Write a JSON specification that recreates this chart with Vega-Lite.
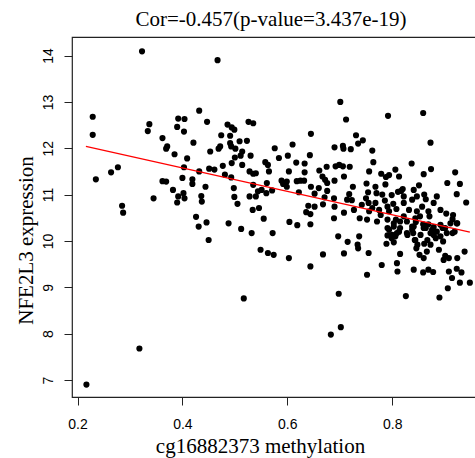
{
  "$schema": "https://vega.github.io/schema/vega-lite/v6.json",
  "autosize": "none",
  "width": 417,
  "height": 360,
  "padding": {"left": 72, "top": 37, "right": 0, "bottom": 61},
  "background": "white",
  "config": {
    "view": {"stroke": "#222", "strokeWidth": 1.2},
    "axis": {"grid": false, "domain": false, "tickColor": "#222", "tickSize": 8, "labelColor": "black", "titleColor": "black", "labelFont": "Liberation Sans", "labelFontSize": 14, "titleFont": "Liberation Serif", "titleFontSize": 21, "titleFontWeight": "normal"}
  },
  "title": {"text": "Cor=-0.457(p-value=3.437e-19)", "font": "Liberation Serif", "fontSize": 21, "fontWeight": "normal", "color": "black", "offset": 7, "dx": -9.5},
  "datasets": {
    "pts": [
      {"m":0.323,"e":14.09},{"m":0.467,"e":13.90},{"m":0.229,"e":12.68},{"m":0.229,"e":12.29},{"m":0.235,"e":11.33},{"m":0.264,"e":11.48},{"m":0.277,"e":11.59},{"m":0.285,"e":10.76},{"m":0.287,"e":10.61},{"m":0.337,"e":12.52},{"m":0.334,"e":12.37},{"m":0.345,"e":10.92},{"m":0.362,"e":12.22},{"m":0.371,"e":12.04},{"m":0.369,"e":11.99},{"m":0.385,"e":11.87},{"m":0.392,"e":12.64},{"m":0.404,"e":12.63},{"m":0.390,"e":12.46},{"m":0.403,"e":12.36},{"m":0.421,"e":12.12},{"m":0.409,"e":11.78},{"m":0.403,"e":11.59},{"m":0.432,"e":12.81},{"m":0.447,"e":12.57},{"m":0.400,"e":11.36},{"m":0.362,"e":11.29},{"m":0.369,"e":11.28},{"m":0.382,"e":11.10},{"m":0.392,"e":10.96},{"m":0.390,"e":10.83},{"m":0.402,"e":11.03},{"m":0.404,"e":10.92},{"m":0.419,"e":11.33},{"m":0.419,"e":11.23},{"m":0.432,"e":11.50},{"m":0.444,"e":11.17},{"m":0.436,"e":10.97},{"m":0.437,"e":10.85},{"m":0.426,"e":10.52},{"m":0.431,"e":10.31},{"m":0.446,"e":10.40},{"m":0.451,"e":11.56},{"m":0.461,"e":11.54},{"m":0.453,"e":11.93},{"m":0.469,"e":11.99},{"m":0.472,"e":12.04},{"m":0.474,"e":12.28},{"m":0.486,"e":12.51},{"m":0.494,"e":12.45},{"m":0.499,"e":12.40},{"m":0.491,"e":12.27},{"m":0.491,"e":12.11},{"m":0.493,"e":12.04},{"m":0.501,"e":11.99},{"m":0.509,"e":12.15},{"m":0.514,"e":11.93},{"m":0.511,"e":11.84},{"m":0.500,"e":11.80},{"m":0.494,"e":11.68},{"m":0.477,"e":11.62},{"m":0.481,"e":11.43},{"m":0.493,"e":11.37},{"m":0.498,"e":11.14},{"m":0.499,"e":10.95},{"m":0.505,"e":10.80},{"m":0.514,"e":11.64},{"m":0.523,"e":12.16},{"m":0.526,"e":12.57},{"m":0.535,"e":12.54},{"m":0.530,"e":11.84},{"m":0.528,"e":11.50},{"m":0.535,"e":11.45},{"m":0.540,"e":11.46},{"m":0.535,"e":11.21},{"m":0.544,"e":11.07},{"m":0.528,"e":10.96},{"m":0.540,"e":10.96},{"m":0.534,"e":10.67},{"m":0.546,"e":10.71},{"m":0.555,"e":10.48},{"m":0.558,"e":11.70},{"m":0.563,"e":11.64},{"m":0.565,"e":11.50},{"m":0.512,"e":10.26},{"m":0.488,"e":10.38},
      {"m":0.217,"e":6.90},{"m":0.318,"e":7.68},{"m":0.517,"e":8.76},{"m":0.450,"e":10.02},{"m":0.532,"e":10.17},{"m":0.549,"e":9.81},{"m":0.563,"e":9.74},
      {"m":0.701,"e":13.00},{"m":0.712,"e":12.62},{"m":0.792,"e":12.70},{"m":0.859,"e":12.76},{"m":0.873,"e":12.12},{"m":0.645,"e":12.31},{"m":0.731,"e":12.28},{"m":0.735,"e":12.10},{"m":0.744,"e":12.17},{"m":0.690,"e":12.02},{"m":0.706,"e":12.05},{"m":0.707,"e":11.99},{"m":0.721,"e":11.98},{"m":0.762,"e":11.95},{"m":0.576,"e":12.00},{"m":0.584,"e":11.79},{"m":0.610,"e":12.08},{"m":0.601,"e":11.84},{"m":0.643,"e":11.85},{"m":0.617,"e":11.69},{"m":0.633,"e":11.67},{"m":0.633,"e":11.48},{"m":0.603,"e":11.50},{"m":0.589,"e":11.30},{"m":0.592,"e":11.23},{"m":0.599,"e":11.28},{"m":0.599,"e":11.17},{"m":0.618,"e":11.29},{"m":0.625,"e":11.30},{"m":0.632,"e":11.30},{"m":0.561,"e":11.25},{"m":0.560,"e":11.03},{"m":0.551,"e":11.10},{"m":0.622,"e":11.05},{"m":0.645,"e":11.17},{"m":0.652,"e":11.02},{"m":0.661,"e":11.52},{"m":0.675,"e":11.60},{"m":0.667,"e":11.39},{"m":0.672,"e":11.32},{"m":0.676,"e":11.25},{"m":0.660,"e":11.14},{"m":0.676,"e":11.08},{"m":0.671,"e":10.94},{"m":0.690,"e":11.30},{"m":0.699,"e":11.64},{"m":0.706,"e":11.61},{"m":0.719,"e":11.60},{"m":0.708,"e":11.39},{"m":0.725,"e":11.17},{"m":0.718,"e":11.01},{"m":0.714,"e":10.89},{"m":0.723,"e":10.88},{"m":0.689,"e":10.92},{"m":0.690,"e":10.74},{"m":0.668,"e":10.79},{"m":0.652,"e":10.74},{"m":0.640,"e":10.76},{"m":0.636,"e":10.62},{"m":0.644,"e":10.58},{"m":0.644,"e":10.36},{"m":0.604,"e":10.41},{"m":0.619,"e":10.34},{"m":0.689,"e":10.49},{"m":0.708,"e":10.61},{"m":0.738,"e":10.49},{"m":0.751,"e":11.24},{"m":0.756,"e":11.50},{"m":0.764,"e":11.70},{"m":0.779,"e":11.45},{"m":0.788,"e":11.38},{"m":0.794,"e":11.42},{"m":0.806,"e":11.54},{"m":0.813,"e":11.39},{"m":0.787,"e":11.22},{"m":0.768,"e":11.17},{"m":0.770,"e":11.03},{"m":0.781,"e":11.00},{"m":0.754,"e":11.05},{"m":0.750,"e":10.92},{"m":0.755,"e":10.82},{"m":0.762,"e":10.71},{"m":0.756,"e":10.64},{"m":0.775,"e":10.67},{"m":0.786,"e":10.87},{"m":0.799,"e":10.99},{"m":0.802,"e":10.80},{"m":0.808,"e":10.69},{"m":0.811,"e":11.06},{"m":0.817,"e":11.08},{"m":0.820,"e":11.12},{"m":0.822,"e":10.96},{"m":0.794,"e":10.64},{"m":0.791,"e":10.46},{"m":0.807,"e":10.46},{"m":0.822,"e":10.53},{"m":0.837,"e":11.67},{"m":0.860,"e":11.44},{"m":0.874,"e":11.55},{"m":0.841,"e":11.10},{"m":0.851,"e":11.20},{"m":0.847,"e":10.96},{"m":0.861,"e":11.00},{"m":0.864,"e":10.90},{"m":0.847,"e":10.64},{"m":0.853,"e":10.53},{"m":0.869,"e":10.64},{"m":0.871,"e":10.53},{"m":0.845,"e":10.41},{"m":0.859,"e":10.36},{"m":0.869,"e":10.36},{"m":0.879,"e":10.30},{"m":0.903,"e":10.59},{"m":0.916,"e":10.56},{"m":0.920,"e":11.48},{"m":0.929,"e":11.23},{"m":0.923,"e":11.01},{"m":0.941,"e":10.83},{"m":0.905,"e":11.25},{"m":0.915,"e":10.47},{"m":0.923,"e":10.38},{"m":0.692,"e":11.61},{"m":0.752,"e":10.46},{"m":0.771,"e":10.42},{"m":0.727,"e":10.67},{"m":0.742,"e":10.78},{"m":0.791,"e":10.74},{"m":0.571,"e":11.09},
      {"m":0.574,"e":9.70},{"m":0.572,"e":10.17},{"m":0.603,"e":9.63},{"m":0.644,"e":9.45},{"m":0.668,"e":9.71},{"m":0.697,"e":10.10},{"m":0.715,"e":9.98},{"m":0.708,"e":9.73},{"m":0.734,"e":9.92},{"m":0.735,"e":9.84},{"m":0.737,"e":10.10},{"m":0.755,"e":9.74},{"m":0.752,"e":9.27},{"m":0.698,"e":8.86},{"m":0.702,"e":8.14},{"m":0.683,"e":7.98},{"m":0.780,"e":9.48},{"m":0.791,"e":10.12},{"m":0.799,"e":10.06},{"m":0.803,"e":9.97},{"m":0.809,"e":10.17},{"m":0.789,"e":9.94},{"m":0.809,"e":9.52},{"m":0.810,"e":9.34},{"m":0.815,"e":9.72},{"m":0.826,"e":8.81},{"m":0.841,"e":9.38},{"m":0.859,"e":9.32},{"m":0.869,"e":9.38},{"m":0.878,"e":9.33},{"m":0.844,"e":10.02},{"m":0.846,"e":9.84},{"m":0.861,"e":9.94},{"m":0.852,"e":9.70},{"m":0.860,"e":9.63},{"m":0.866,"e":9.77},{"m":0.873,"e":9.92},{"m":0.879,"e":10.13},{"m":0.889,"e":9.81},{"m":0.897,"e":9.99},{"m":0.898,"e":9.59},{"m":0.901,"e":9.68},{"m":0.908,"e":9.63},{"m":0.924,"e":9.63},{"m":0.938,"e":9.77},{"m":0.908,"e":9.34},{"m":0.914,"e":9.20},{"m":0.923,"e":9.40},{"m":0.932,"e":9.32},{"m":0.929,"e":9.10},{"m":0.948,"e":9.10},{"m":0.906,"e":8.98},{"m":0.890,"e":8.78},{"m":0.915,"e":10.17},{"m":0.892,"e":10.10},{"m":0.840,"e":10.17},{"m":0.791,"e":10.28},{"m":0.803,"e":10.38},{"m":0.815,"e":10.42},{"m":0.828,"e":10.17},{"m":0.841,"e":10.31},{"m":0.864,"e":10.28},{"m":0.873,"e":10.17},{"m":0.885,"e":10.20},{"m":0.904,"e":10.17},{"m":0.924,"e":10.38},
      {"m":0.794,"e":10.24},{"m":0.800,"e":10.13},{"m":0.806,"e":10.10},{"m":0.813,"e":10.20},{"m":0.829,"e":10.13},{"m":0.838,"e":10.24},{"m":0.843,"e":10.02},{"m":0.848,"e":9.92},{"m":0.854,"e":10.13},{"m":0.860,"e":10.28},{"m":0.867,"e":10.02},{"m":0.876,"e":10.24},{"m":0.883,"e":10.06},{"m":0.896,"e":10.28},{"m":0.919,"e":10.20},
      {"m":0.803,"e":10.31},{"m":0.815,"e":10.28},{"m":0.828,"e":10.42},{"m":0.838,"e":10.31},{"m":0.844,"e":10.49},{"m":0.892,"e":10.35},{"m":0.901,"e":10.28},{"m":0.911,"e":10.38},{"m":0.778,"e":10.56},{"m":0.768,"e":10.82},{"m":0.822,"e":10.82},{"m":0.832,"e":10.67},{"m":0.838,"e":10.89},{"m":0.857,"e":10.74},{"m":0.879,"e":10.82},{"m":0.885,"e":10.96},{"m":0.892,"e":10.67}
    ],
    "fit": [{"m":0.216,"e":12.04},{"m":0.948,"e":10.19}]
  },
  "layer": [
    {
      "data": {"name": "pts"},
      "mark": {"type": "circle", "size": 38, "color": "black", "opacity": 1},
      "encoding": {
        "x": {"field": "m", "type": "quantitative", "scale": {"domain": [0.1895, 0.9845], "nice": false, "zero": false},
              "axis": {"title": "cg16882373 methylation", "values": [0.2, 0.4, 0.6, 0.8], "format": ".1f", "labelPadding": 12, "titlePadding": 4, "titleX": 188, "labelFlush": false}},
        "y": {"field": "e", "type": "quantitative", "scale": {"domain": [6.633, 14.40], "nice": false, "zero": false},
              "axis": {"title": "NFE2L3 expression", "values": [7, 8, 9, 10, 11, 12, 13, 14], "labelAngle": -90, "labelAlign": "center", "labelBaseline": "bottom", "labelPadding": 9, "titlePadding": 5, "titleY": 203, "labelFlush": false}}
      }
    },
    {
      "data": {"name": "fit"},
      "mark": {"type": "line", "color": "red", "strokeWidth": 1.2},
      "encoding": {
        "x": {"field": "m", "type": "quantitative"},
        "y": {"field": "e", "type": "quantitative"}
      }
    }
  ]
}
